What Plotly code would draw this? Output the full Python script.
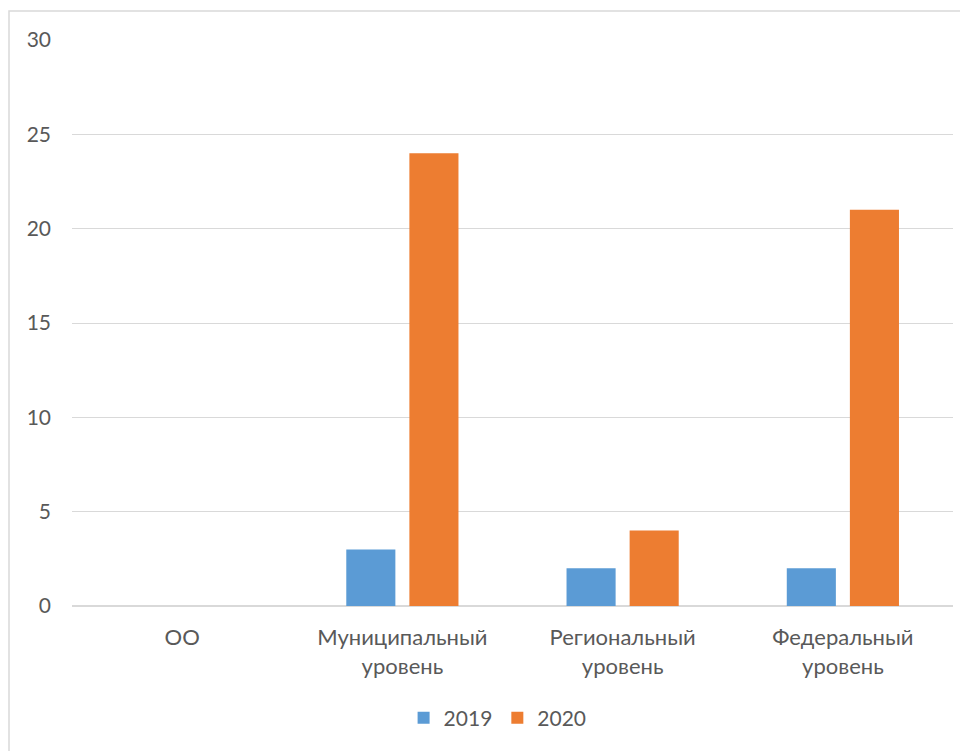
import plotly.graph_objects as go

categories = ["ОО", "Муниципальный<br>уровень", "Региональный<br>уровень", "Федеральный<br>уровень"]
values_2019 = [0, 3, 2, 2]
values_2020 = [0, 24, 4, 21]
series_names = ["2019", "2020"]

FONT = "Lato, Liberation Sans, sans-serif"
TXT = "#595959"

fig = go.Figure()
fig.add_trace(go.Bar(x=categories, y=values_2019, name=series_names[0],
                     marker=dict(color="#5B9BD5", line=dict(width=0))))
fig.add_trace(go.Bar(x=categories, y=values_2020, name=series_names[1],
                     marker=dict(color="#ED7D31", line=dict(width=0))))

fig.update_layout(
    width=960, height=743,
    margin=dict(l=64, r=15, t=32, b=145),
    paper_bgcolor="white", plot_bgcolor="white",
    barmode="group", bargap=0.427, bargroupgap=0.222,
    font=dict(family=FONT, size=21, color=TXT),
    showlegend=True,
    legend=dict(orientation="h", xref="container", x=0.51, xanchor="center",
                yref="container", y=0.0444, yanchor="middle",
                font=dict(size=21, color=TXT), itemwidth=30, traceorder="normal"),
    shapes=[dict(type="rect", xref="paper", yref="paper", layer="below",
                 x0=-63/881, x1=1.2, y0=-0.5, y1=1 + 29/566,
                 line=dict(color="#d9d9d9", width=1.5))],
)
fig.update_xaxes(showgrid=False, showline=False, ticks="", tickfont=dict(size=22, color=TXT),
                 ticklabelstandoff=16)
fig.update_yaxes(range=[0, 30], dtick=5, showgrid=True, gridcolor="#d9d9d9", gridwidth=1,
                 zeroline=True, zerolinecolor="#d9d9d9", zerolinewidth=1.5,
                 showline=False, ticks="", tickfont=dict(size=21, color=TXT),
                 ticklabelstandoff=20)

fig.write_html("out.html")
